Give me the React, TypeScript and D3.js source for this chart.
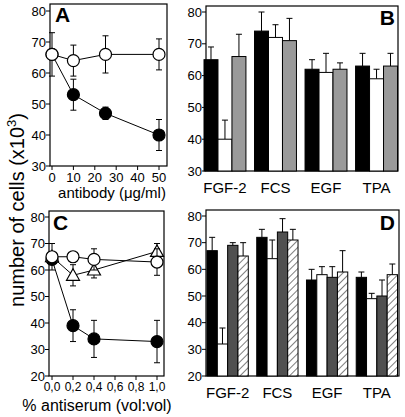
import React from "react";
import * as d3 from "d3";

// Panel A
const aDose = [0, 10, 25, 50];
const aOpen = [66, 64, 66, 66];
const aOpenErr = [7, 5, 6, 5];
const aFilled = [66, 53, 47, 40];
const aFilledErr = [0, 5, 2, 5];
const aXTicks = [0, 10, 20, 30, 40, 50];
const abTicksY = [30, 40, 50, 60, 70, 80];

// Panel B
const categories = ["FGF-2", "FCS", "EGF", "TPA"];
const bBlack = [65, 74, 62, 63];
const bBlackErr = [4, 6, 3, 4];
const bWhite = [40, 72, 61, 59];
const bWhiteErr = [6, 4, 6, 3];
const bGray = [66, 71, 62, 63];
const bGrayErr = [7, 7, 2, 4];

// Panel C
const cDose = [0, 0.2, 0.4, 1.0];
const cXTicks = [0, 0.2, 0.4, 0.6, 0.8, 1.0];
const cOpen = [65, 65, 64, 63];
const cOpenErr = [5, 2, 4, 5];
const cTri = [65, 58, 60, 67];
const cTriErr = [0, 4, 3, 3];
const cFilled = [64, 39, 34, 33];
const cFilledErr = [0, 6, 7, 8];
const cdTicksY = [20, 30, 40, 50, 60, 70, 80];

// Panel D
const dBlack = [67, 72, 56, 57];
const dBlackErr = [5, 3, 4, 2];
const dWhite = [32, 64, 58, 49];
const dWhiteErr = [6, 7, 3, 2];
const dDark = [69, 74, 57, 50];
const dDarkErr = [1, 5, 4, 6];
const dHatch = [65, 71, 59, 58];
const dHatchErr = [5, 4, 8, 4];

const FONT = "Liberation Sans, Arial, Helvetica, sans-serif";

type Box = { x0: number; x1: number; y0: number; y1: number };

function Frame({ box }: { box: Box }) {
  return (
    <rect x={box.x0} y={box.y0} width={box.x1 - box.x0} height={box.y1 - box.y0}
      fill="none" stroke="#000" strokeWidth={1.2} />
  );
}

function YAxis({ box, y, ticks }: { box: Box; y: d3.ScaleLinear<number, number>; ticks: number[] }) {
  return (
    <g>
      {ticks.map((t) => (
        <g key={t}>
          <line x1={box.x0 - 4} x2={box.x0} y1={y(t)} y2={y(t)} stroke="#000" strokeWidth={1} />
          <text x={box.x0 - 4} y={y(t) + 4.5} textAnchor="end" fontSize={13} fontFamily={FONT}>{t}</text>
        </g>
      ))}
    </g>
  );
}

function XTicks({ box, x, ticks, fmt, fs }: { box: Box; x: d3.ScaleLinear<number, number>; ticks: number[]; fmt: (v: number) => string; fs: number }) {
  return (
    <g>
      {ticks.map((t) => (
        <g key={t}>
          <line x1={x(t)} x2={x(t)} y1={box.y1} y2={box.y1 + 4} stroke="#000" strokeWidth={1} />
          <text x={x(t)} y={box.y1 + fs + 3} textAnchor="middle" fontSize={fs} fontFamily={FONT}>{fmt(t)}</text>
        </g>
      ))}
    </g>
  );
}

function ErrV({ x, yv, ye }: { x: number; yv: number; ye: number }) {
  return (
    <g stroke="#000" strokeWidth={1}>
      <line x1={x} x2={x} y1={yv} y2={ye} />
      <line x1={x - 3} x2={x + 3} y1={ye} y2={ye} />
    </g>
  );
}

function LineSeries({ xs, ys, errs, x, y, marker }: {
  xs: number[]; ys: number[]; errs: number[];
  x: d3.ScaleLinear<number, number>; y: d3.ScaleLinear<number, number>;
  marker: "open" | "filled" | "tri";
}) {
  const pts: [number, number][] = xs.map((v, i) => [x(v), y(ys[i])]);
  const line = d3.line()(pts) || "";
  return (
    <g>
      <path d={line} fill="none" stroke="#000" strokeWidth={1} />
      {xs.map((v, i) =>
        errs[i] > 0 ? (
          <g key={"e" + i}>
            <ErrV x={x(v)} yv={y(ys[i])} ye={y(ys[i] + errs[i])} />
            <ErrV x={x(v)} yv={y(ys[i])} ye={y(ys[i] - errs[i])} />
          </g>
        ) : null
      )}
      {pts.map(([px, py], i) =>
        marker === "tri" ? (
          <path key={i} d={`M${px},${py - 6.5}L${px + 6.5},${py + 5}L${px - 6.5},${py + 5}Z`}
            fill="#fff" stroke="#000" strokeWidth={1.2} />
        ) : (
          <circle key={i} cx={px} cy={py} r={6} fill={marker === "filled" ? "#000" : "#fff"}
            stroke="#000" strokeWidth={1.2} />
        )
      )}
    </g>
  );
}

type BarSeries = { vals: number[]; errs: number[]; fill: string };

function Bars({ box, y, series, range }: { box: Box; y: d3.ScaleLinear<number, number>; series: BarSeries[]; range: [number, number] }) {
  const xb = d3.scaleBand<string>().domain(categories).range(range).paddingInner(0.17).paddingOuter(0);
  const xi = d3.scaleBand<number>().domain(series.map((_, i) => i)).range([0, xb.bandwidth()]).padding(0);
  return (
    <g>
      {categories.map((c, ci) => (
        <g key={c}>
          {series.map((s, si) => {
            const bx = (xb(c) || 0) + (xi(si) || 0);
            const w = xi.bandwidth();
            const top = y(s.vals[ci]);
            return (
              <g key={si}>
                <ErrV x={bx + w / 2} yv={top} ye={y(s.vals[ci] + s.errs[ci])} />
                <rect x={bx} y={top} width={w} height={box.y1 - top} fill={s.fill} stroke="#000" strokeWidth={1} />
              </g>
            );
          })}
          <text x={(xb(c) || 0) + xb.bandwidth() / 2} y={box.y1 + 22} textAnchor="middle" fontSize={15} fontFamily={FONT}>{c}</text>
        </g>
      ))}
    </g>
  );
}

export default function App() {
  const boxA: Box = { x0: 50, x1: 167, y0: 4, y1: 166 };
  const yA = d3.scaleLinear().domain([30, 80]).range([166, 11]);
  const xA = d3.scaleLinear().domain([0, 50]).range([52, 159]);

  const boxB: Box = { x0: 206, x1: 398, y0: 6, y1: 171 };
  const yB = d3.scaleLinear().domain([30, 80]).range([171, 12]);

  const boxC: Box = { x0: 49, x1: 164, y0: 211, y1: 376 };
  const yC = d3.scaleLinear().domain([20, 80]).range([376, 217]);
  const xC = d3.scaleLinear().domain([0, 1]).range([52, 157]);

  const boxD: Box = { x0: 206, x1: 399, y0: 210, y1: 376 };
  const yD = d3.scaleLinear().domain([20, 80]).range([376, 216]);

  const commaFmt = (v: number) => v.toFixed(1).replace(".", ",");

  return (
    <svg width={405} height={417} style={{ position: "absolute", left: 0, top: 0, background: "#fff" }}>
      <defs>
        <pattern id="hatch" patternUnits="userSpaceOnUse" width={5} height={5} patternTransform="rotate(45)">
          <rect width={5} height={5} fill="#fff" />
          <line x1={0} y1={0} x2={0} y2={5} stroke="#000" strokeWidth={1} />
        </pattern>
      </defs>
      <rect width={405} height={417} fill="#fff" />

      {/* Y label */}
      <text transform="translate(24,210) rotate(-90)" textAnchor="middle" fontSize={20} fontFamily={FONT}>
        number of cells (x10<tspan dy={-8} fontSize={13}>3</tspan><tspan dy={8}>)</tspan>
      </text>

      {/* Panel A */}
      <Frame box={boxA} />
      <YAxis box={boxA} y={yA} ticks={abTicksY} />
      <XTicks box={boxA} x={xA} ticks={aXTicks} fmt={(v) => String(v)} fs={13} />
      <LineSeries xs={aDose} ys={aFilled} errs={aFilledErr} x={xA} y={yA} marker="filled" />
      <LineSeries xs={aDose} ys={aOpen} errs={aOpenErr} x={xA} y={yA} marker="open" />
      <text x={55} y={22} fontSize={21} fontWeight="bold" fontFamily={FONT}>A</text>
      <text x={112} y={198} textAnchor="middle" fontSize={15} fontFamily={FONT}>antibody (μg/ml)</text>

      {/* Panel B */}
      <Frame box={boxB} />
      <YAxis box={boxB} y={yB} ticks={abTicksY} />
      <Bars box={boxB} y={yB} range={[204, 397.5]} series={[
        { vals: bBlack, errs: bBlackErr, fill: "#000" },
        { vals: bWhite, errs: bWhiteErr, fill: "#fff" },
        { vals: bGray, errs: bGrayErr, fill: "#9a9a9a" },
      ]} />
      <text x={395} y={25} textAnchor="end" fontSize={21} fontWeight="bold" fontFamily={FONT}>B</text>

      {/* Panel C */}
      <Frame box={boxC} />
      <YAxis box={boxC} y={yC} ticks={cdTicksY} />
      <XTicks box={boxC} x={xC} ticks={cXTicks} fmt={commaFmt} fs={12} />
      <LineSeries xs={cDose} ys={cFilled} errs={cFilledErr} x={xC} y={yC} marker="filled" />
      <LineSeries xs={cDose} ys={cTri} errs={cTriErr} x={xC} y={yC} marker="tri" />
      <LineSeries xs={cDose} ys={cOpen} errs={cOpenErr} x={xC} y={yC} marker="open" />
      <text x={53} y={230} fontSize={21} fontWeight="bold" fontFamily={FONT}>C</text>
      <text x={97} y={411} textAnchor="middle" fontSize={16} fontFamily={FONT}>% antiserum (vol:vol)</text>

      {/* Panel D */}
      <Frame box={boxD} />
      <YAxis box={boxD} y={yD} ticks={cdTicksY} />
      <Bars box={boxD} y={yD} range={[207, 397.5]} series={[
        { vals: dBlack, errs: dBlackErr, fill: "#000" },
        { vals: dWhite, errs: dWhiteErr, fill: "#fff" },
        { vals: dDark, errs: dDarkErr, fill: "#505050" },
        { vals: dHatch, errs: dHatchErr, fill: "url(#hatch)" },
      ]} />
      <text x={395} y={230} textAnchor="end" fontSize={21} fontWeight="bold" fontFamily={FONT}>D</text>
    </svg>
  );
}
